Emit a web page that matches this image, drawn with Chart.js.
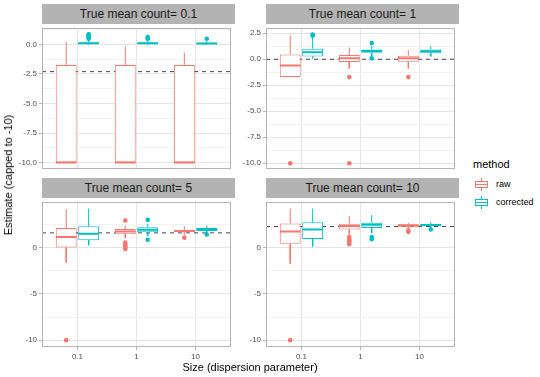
<!DOCTYPE html>
<html>
<head>
<meta charset="utf-8">
<script src="https://cdn.jsdelivr.net/npm/chart.js@4.4.1/dist/chart.umd.min.js"></script>
<style>
  body { margin: 0; background: #fff; font-family: "Liberation Sans", Arial, sans-serif; }
  #wrap { position: relative; width: 540px; height: 377px; overflow: hidden; }
  canvas { position: absolute; }
  .strip { position: absolute; height: 20px; line-height: 20px; background: #b3b3b3; color: #1a1a1a; font-size: 12px; text-align: center; }
  .axis-title { position: absolute; font-size: 11px; color: #000; white-space: nowrap; }
  .legend-title { position: absolute; left: 473px; top: 158px; font-size: 11px; }
  .key { position: absolute; left: 474px; width: 15px; height: 13px; }
  .key .box { position: absolute; left: 1px; top: 3px; width: 11px; height: 5px; border: 1px solid; background: #fff; }
  .key .med { position: absolute; left: 1px; top: 6px; width: 13px; height: 1px; }
  .key .wh { position: absolute; left: 7px; width: 1px; }
  .key-label { position: absolute; left: 496px; font-size: 9px; color: #000; }
</style>
</head>
<body>
<div id="wrap">
  <div class="strip" style="left:42px; top:4px; width:193px;" id="s1"></div>
  <div class="strip" style="left:266px; top:4px; width:193px;" id="s2"></div>
  <div class="strip" style="left:42px; top:178px; width:193px;" id="s3"></div>
  <div class="strip" style="left:266px; top:178px; width:193px;" id="s4"></div>

  <canvas id="p1" width="235" height="149" style="left:0; top:24px;"></canvas>
  <canvas id="p2" width="223" height="149" style="left:236px; top:24px;"></canvas>
  <canvas id="p3" width="235" height="166" style="left:0; top:198px;"></canvas>
  <canvas id="p4" width="223" height="166" style="left:236px; top:198px;"></canvas>

  <div class="axis-title" style="left:250px; top:361px; transform:translateX(-50%);">Size (dispersion parameter)</div>
  <div class="axis-title" style="left:8px; top:175px; transform:translate(-50%,-50%) rotate(-90deg);">Estimate (capped to -10)</div>

  <div class="legend-title">method</div>
  <div class="key" style="top:178px;">
    <div class="wh" style="top:0; height:3px; background:#F8766D;"></div>
    <div class="box" style="border-color:#F8766D;"></div>
    <div class="med" style="background:#F8766D;"></div>
    <div class="wh" style="top:10px; height:3px; background:#F8766D;"></div>
  </div>
  <div class="key-label" style="top:179px;">raw</div>
  <div class="key" style="top:196px;">
    <div class="wh" style="top:0; height:3px; background:#00BFC4;"></div>
    <div class="box" style="border-color:#00BFC4;"></div>
    <div class="med" style="background:#00BFC4;"></div>
    <div class="wh" style="top:10px; height:3px; background:#00BFC4;"></div>
  </div>
  <div class="key-label" style="top:197px;">corrected</div>
</div>

<script>
// Sizes (dispersion parameter) on the x axis
const sizeLabels = ['0.1', '1', '10']
const sizePositions = [1, 2, 3]

const panelTitles = ['True mean count= 0.1', 'True mean count= 1', 'True mean count= 5', 'True mean count= 10']
const trueLogMean = [-2.303, 0, 1.609, 2.303]

// box stats per size: [lower whisker, Q1, median, Q3, upper whisker]
const rawBox01 = [[-10, -10, -10, -1.75, 0.19], [-10, -10, -10, -1.75, -0.16], [-10, -10, -10, -1.75, -0.7]]
const corBox01 = [[0.0, 0.03, 0.1, 0.17, 0.4], [0.0, 0.03, 0.09, 0.16, 0.35], [0.0, 0.03, 0.08, 0.14, 0.28]]
const rawOut01 = [[], [], []]
const corOut01 = [[0.48, 0.56, 0.64, 0.72, 0.8, 0.85], [0.48, 0.55, 0.62], [0.48]]

const rawBox1 = [[-1.71, -1.71, -0.61, 0.46, 2.29], [-0.89, -0.27, 0.09, 0.4, 1.13], [-0.89, -0.24, 0.09, 0.34, 0.88]]
const corBox1 = [[0.09, 0.25, 0.67, 1.0, 2.05], [0.3, 0.61, 0.79, 0.94, 1.35], [0.27, 0.58, 0.76, 0.94, 1.25]]
const rawOut1 = [[-10], [-1.71, -10], [-1.71]]
const corOut1 = [[2.25, 2.38], [1.56, 0.09], []]

const rawBox5 = [[-1.61, 0.03, 1.16, 2.14, 4.18], [1.09, 1.47, 1.76, 2.03, 2.42], [1.44, 1.68, 1.82, 1.93, 2.32]]
const corBox5 = [[0.28, 0.81, 1.51, 2.32, 4.24], [1.26, 1.68, 1.96, 2.21, 2.56], [1.61, 1.82, 2.0, 2.14, 2.42]]
const rawOut5 = [[-10], [2.95, 0.56, 0.4, 0.25, 0.1, -0.05, -0.14], [1.09]]
const corOut5 = [[], [3.02, 0.87], [1.44]]

const rawBox10 = [[-1.72, 0.42, 1.76, 2.63, 4.24], [1.44, 1.97, 2.35, 2.6, 3.44], [1.97, 2.28, 2.42, 2.53, 2.7]]
const corBox10 = [[0.14, 0.95, 1.97, 2.77, 4.24], [1.61, 2.14, 2.49, 2.7, 3.55], [2.14, 2.32, 2.46, 2.56, 2.77]]
const rawOut10 = [[-10], [1.16, 0.95, 0.75, 0.55, 0.39], [1.72, 1.85]]
const corOut10 = [[], [1.16, 0.92], [1.97]]

// y axis limits and ticks for each facet (free scales)
const yLimits01 = [-10.54, 1.39]
const yLimits1 = [-10.55, 3.0]
const yLimits5 = [-10.74, 4.95]
const yLimits10 = [-10.74, 4.95]
const yMajorTop = [-10, -7.5, -5, -2.5, 0, 2.5]
const yMajorTopLabels = ['-10.0', '-7.5', '-5.0', '-2.5', '0.0', '2.5']
const yMinorTop = [-8.75, -6.25, -3.75, -1.25, 1.25]
const yMajorBottom = [-10, -5, 0]
const yMajorBottomLabels = ['-10', '-5', '0']
const yMinorBottom = [-7.5, -2.5, 2.5]

const RAW = '#F8766D'
const COR = '#00BFC4'
const dodge = 0.19
const halfBox = 0.176

Chart.defaults.font.family = '"Liberation Sans", Arial, sans-serif'

const panelBorder = {
  id: 'panelBorder',
  afterDraw(chart) {
    const { ctx, chartArea: a } = chart
    ctx.save()
    ctx.strokeStyle = '#b3b3b3'
    ctx.lineWidth = 1
    ctx.strokeRect(a.left + 0.5, a.top + 0.5, a.width - 1, a.height - 1)
    ctx.restore()
  }
}

function boxDatasets(stats, outliers, side, color) {
  const xs = sizePositions.map(x => x + side * dodge)
  const whiskers = []
  const medians = []
  const points = []
  stats.forEach((s, i) => {
    whiskers.push({ x: xs[i], y: s[3] }, { x: xs[i], y: s[4] }, { x: xs[i], y: null },
                  { x: xs[i], y: s[1] }, { x: xs[i], y: s[0] }, { x: xs[i], y: null })
    medians.push({ x: xs[i] - halfBox, y: s[2] }, { x: xs[i] + halfBox, y: s[2] }, { x: xs[i], y: null })
  })
  outliers.forEach((arr, i) => arr.forEach(v => points.push({ x: xs[i], y: v })))
  return [
    { type: 'line', data: whiskers, borderColor: color, borderWidth: 1, pointRadius: 0, spanGaps: false, order: 4 },
    {
      type: 'bar', data: stats.map((s, i) => ({ x: xs[i], y: [s[1], s[3]] })),
      backgroundColor: '#fff', borderColor: color, borderWidth: 1, borderSkipped: false,
      grouped: false, barPercentage: 0.93, categoryPercentage: 1, order: 3
    },
    { type: 'line', data: medians, borderColor: color, borderWidth: 2, pointRadius: 0, spanGaps: false, order: 2 },
    { type: 'scatter', data: points, backgroundColor: color, borderWidth: 0, pointRadius: 2.3, order: 1 }
  ]
}

function makePanel(id, p) {
  const ticks = p.major.concat(p.minor).filter(v => v >= p.limits[0] && v <= p.limits[1]).sort((a, b) => a - b)
  const isMajor = v => p.major.includes(v)

  new Chart(document.getElementById(id), {
    type: 'bar',
    data: {
      datasets: [
        {
          type: 'line', data: [{ x: 0.4, y: p.mean }, { x: 3.6, y: p.mean }],
          borderColor: '#333', borderWidth: 0.9, borderDash: [4, 4], pointRadius: 0, order: 5
        },
        ...boxDatasets(p.raw, p.rawOut, -1, RAW),
        ...boxDatasets(p.cor, p.corOut, 1, COR)
      ]
    },
    options: {
      responsive: false,
      animation: false,
      layout: { padding: 0 },
      plugins: { legend: { display: false }, tooltip: { enabled: false } },
      scales: {
        x: {
          type: 'linear', min: 0.4, max: 3.6, offset: false,
          afterBuildTicks: s => { s.ticks = sizePositions.map(v => ({ value: v })) },
          afterFit: s => { s.height = p.bottom ? 17 : 0; s.paddingLeft = 0; s.paddingRight = 0 },
          grid: { color: '#e4e4e4', lineWidth: 1, drawTicks: p.bottom, tickLength: 3, tickColor: '#b3b3b3', offset: false },
          border: { display: false },
          ticks: {
            display: p.bottom, autoSkip: false, maxRotation: 0, padding: 2, color: '#4d4d4d',
            font: { size: 8 }, callback: (v, i) => sizeLabels[i]
          }
        },
        y: {
          min: p.limits[0], max: p.limits[1],
          afterBuildTicks: s => { s.ticks = ticks.map(v => ({ value: v })) },
          afterFit: s => { s.width = p.axisWidth; s.paddingTop = 0; s.paddingBottom = 0 },
          grid: {
            lineWidth: 1, tickLength: 3,
            color: c => isMajor(c.tick && c.tick.value) ? '#e4e4e4' : '#f2f2f2',
            tickColor: c => isMajor(c.tick && c.tick.value) ? '#b3b3b3' : 'rgba(0,0,0,0)'
          },
          border: { display: false },
          ticks: {
            autoSkip: false, padding: 2, color: '#4d4d4d', font: { size: 8 },
            callback: v => { const i = p.major.indexOf(v); return i >= 0 ? p.labels[i] : '' }
          }
        }
      }
    },
    plugins: [panelBorder]
  })
}

const panels = [
  { id: 'p1', raw: rawBox01, cor: corBox01, rawOut: rawOut01, corOut: corOut01, limits: yLimits01, major: yMajorTop, labels: yMajorTopLabels, minor: yMinorTop, bottom: false, axisWidth: 42 },
  { id: 'p2', raw: rawBox1, cor: corBox1, rawOut: rawOut1, corOut: corOut1, limits: yLimits1, major: yMajorTop, labels: yMajorTopLabels, minor: yMinorTop, bottom: false, axisWidth: 30 },
  { id: 'p3', raw: rawBox5, cor: corBox5, rawOut: rawOut5, corOut: corOut5, limits: yLimits5, major: yMajorBottom, labels: yMajorBottomLabels, minor: yMinorBottom, bottom: true, axisWidth: 42 },
  { id: 'p4', raw: rawBox10, cor: corBox10, rawOut: rawOut10, corOut: corOut10, limits: yLimits10, major: yMajorBottom, labels: yMajorBottomLabels, minor: yMinorBottom, bottom: true, axisWidth: 30 }
]

panels.forEach((p, i) => {
  p.mean = trueLogMean[i]
  document.getElementById('s' + (i + 1)).textContent = panelTitles[i]
  makePanel(p.id, p)
})
</script>
</body>
</html>
